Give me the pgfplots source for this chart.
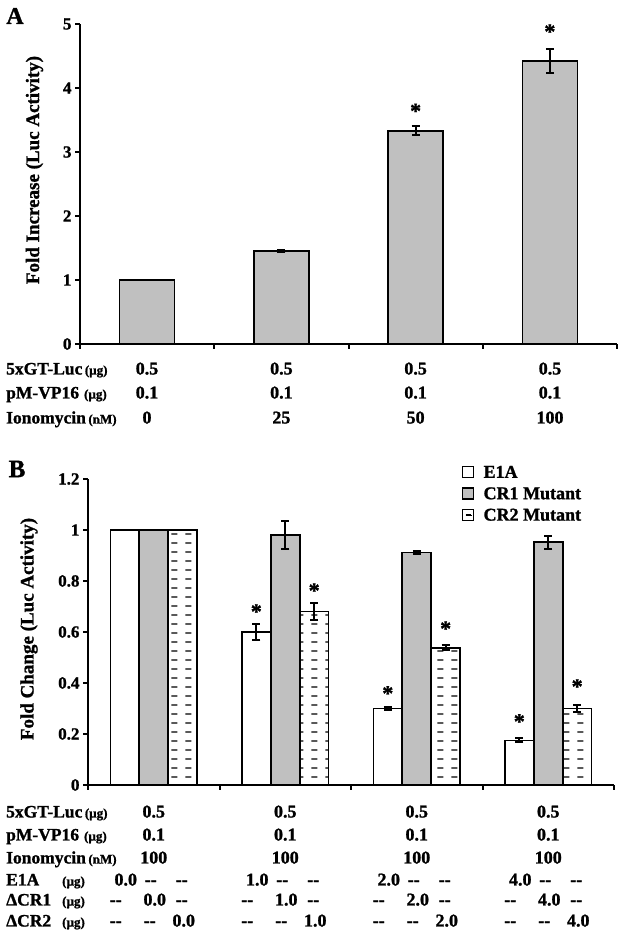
\documentclass[border=0pt]{standalone}
\usepackage{fontspec}
\setmainfont{Liberation Serif}[BoldFeatures={FakeBold=1.2}]
\newfontfamily\labfont{Liberation Serif}[BoldFeatures={FakeBold=1.2}]
\usepackage{pgfplots}
\usepackage{pgfplotstable}
\pgfplotsset{compat=1.18}
\usetikzlibrary{patterns}
\definecolor{barGray}{RGB}{192,192,192}

\pgfdeclarepatternformonly{dashrows}{\pgfqpoint{0pt}{0pt}}{\pgfqpoint{14pt}{9pt}}{\pgfqpoint{14pt}{9pt}}{%
 \pgfsetlinewidth{1.5pt}%
 \pgfpathmoveto{\pgfqpoint{3.5pt}{4.5pt}}%
 \pgfpathlineto{\pgfqpoint{10pt}{4.5pt}}%
 \pgfusepath{stroke}}

\pgfplotstableread{
x y e
0 1.00 0
1 1.45 0.02
2 3.33 0.07
3 4.42 0.19
}\tabA

\pgfplotstableread{
x e1a e1aerr cr1 cr1err cr2 cr2err
0 1.00 0 1.00 0 1.00 0
1 0.60 0.03 0.98 0.055 0.68 0.033
2 0.30 0.004 0.912 0.006 0.538 0.01
3 0.175 0.008 0.952 0.026 0.30 0.013
}\tabB

\newcommand\lab[1]{{\labfont\bfseries\fontsize{17.5}{19}\selectfont #1}}
\newcommand\unit[1]{{\bfseries\fontsize{13}{15}\selectfont #1}}
\newcommand\val[1]{{\bfseries\fontsize{18}{20}\selectfont #1}}
\newcommand\dd{\mbox{-}\mbox{-}}

\tikzset{astnode/.style={font=\fontsize{22}{22}\selectfont\bfseries, inner sep=0pt}}
\pgfplotsset{panel/.style={scale only axis, anchor=south west, xmin=-0.5, xmax=3.5,
  axis x line=bottom, axis y line=left, axis line style={-, line width=2pt},
  tick style={line width=2pt, black}, major tick length=5pt, tick align=outside,
  xtick={-0.5,0.5,1.5,2.5,3.5}, xticklabels={},
  ticklabel style={font=\fontsize{17}{17}\selectfont\bfseries},
  /pgf/number format/assume math mode=true, clip=false},
  errs/.style={error bars/.cd, y dir=both, y explicit,
    error bar style={line width=2pt, black},
    error mark options={rotate=90, mark size=4pt, line width=2pt, black}}}

\begin{document}
\begin{tikzpicture}[x=1pt,y=1pt]
\useasboundingbox (0,0) rectangle (623,934);

% ---------- Panel A ----------
\begin{axis}[panel, at={(80pt,590pt)}, width=537pt, height=320pt,
  ymin=0, ymax=5, ytick={0,1,2,3,4,5}, ybar, bar width=0.41]
\addplot[fill=barGray, draw=black, line width=1.6pt, errs] table[x=x, y=y, y error=e] {\tabA};
\node[astnode] at (axis cs:2,3.64) {*};
\node[astnode] at (axis cs:3,4.88) {*};
\end{axis}

% ---------- Panel B ----------
\begin{axis}[panel, at={(88pt,149pt)}, width=526pt, height=306pt,
  ymin=0, ymax=1.2, ytick={0,0.2,0.4,0.6,0.8,1,1.2}, yticklabels={0,0.2,0.4,0.6,0.8,1,1.2},
  ybar=0pt, bar width=0.22,
  legend style={at={(0.711,1.05)}, anchor=north west, draw=none, fill=none, inner sep=0pt,
    font=\fontsize{18}{18}\selectfont\bfseries, row sep=4pt, legend cell align=left}]
\addplot[fill=white, draw=black, line width=1.6pt,
  legend image code/.code={\draw[fill=white, draw=black, line width=1.2pt] (0pt,-5pt) rectangle (11pt,6pt); \path (18pt,0pt);}, errs]
  table[x=x, y=e1a, y error=e1aerr] {\tabB};
\addlegendentry{E1A}
\addplot[fill=barGray, draw=black, line width=1.6pt,
  legend image code/.code={\draw[fill=barGray, draw=black, line width=1.2pt] (0pt,-5pt) rectangle (11pt,6pt); \path (18pt,0pt);}, errs]
  table[x=x, y=cr1, y error=cr1err] {\tabB};
\addlegendentry{CR1 Mutant}
\addplot[fill=white, draw=black, line width=1.6pt, postaction={pattern=dashrows},
  legend image code/.code={\draw[fill=white, draw=black, line width=1.2pt] (0pt,-5pt) rectangle (11pt,6pt);
    \draw[line width=1.5pt] (3pt,0.5pt) -- (8pt,0.5pt); \path (18pt,0pt);}, errs]
  table[x=x, y=cr2, y error=cr2err] {\tabB};
\addlegendentry{CR2 Mutant}
\node[astnode] at (axis cs:0.78,0.680) {*};
\node[astnode] at (axis cs:1.22,0.762) {*};
\node[astnode] at (axis cs:1.78,0.359) {*};
\node[astnode] at (axis cs:2.22,0.613) {*};
\node[astnode] at (axis cs:2.78,0.249) {*};
\node[astnode] at (axis cs:3.22,0.386) {*};
\end{axis}

% ---------- letters and axis titles ----------
\node[font=\fontsize{24}{24}\selectfont\bfseries] at (15,918) {A};
\node[font=\fontsize{25}{25}\selectfont\bfseries] at (17,465) {B};
\node[rotate=90, font=\fontsize{19}{19}\selectfont\bfseries] at (34.5,764) {Fold Increase (Luc Activity)};
\node[rotate=90, font=\fontsize{19}{19}\selectfont\bfseries] at (29,305) {Fold Change (Luc Activity)};

% ---------- condition table, panel A ----------
\node[anchor=base west, inner sep=0pt] at (6,559.5) {\lab{5xGT-Luc} \unit{(µg)}};
\node[anchor=base west, inner sep=0pt] at (6,535.5) {\lab{pM-VP16}\ \ \unit{(µg)}};
\node[anchor=base west, inner sep=0pt] at (6,510.5) {\lab{Ionomycin} \unit{(nM)}};
\foreach \cx/\c in {147/0, 281.4/25, 415.6/50, 550/100}{
  \node[anchor=base, inner sep=0pt] at (\cx,559.5) {\val{0.5}};
  \node[anchor=base, inner sep=0pt] at (\cx,535.5) {\val{0.1}};
  \node[anchor=base, inner sep=0pt] at (\cx,510.5) {\val{\c}};
}

% ---------- condition table, panel B ----------
\node[anchor=base west, inner sep=0pt] at (6,116.5) {\lab{5xGT-Luc} \unit{(µg)}};
\node[anchor=base west, inner sep=0pt] at (6,93.5) {\lab{pM-VP16}\ \ \unit{(µg)}};
\node[anchor=base west, inner sep=0pt] at (6,70.5) {\lab{Ionomycin} \unit{(nM)}};
\node[anchor=base west, inner sep=0pt] at (6,48.5) {\lab{E1A}};
\node[anchor=base west, inner sep=0pt] at (6,28.5) {\lab{ΔCR1}};
\node[anchor=base west, inner sep=0pt] at (6,7.5) {\lab{ΔCR2}};
\node[anchor=base west, inner sep=0pt] at (62,48.5) {\unit{(µg)}};
\node[anchor=base west, inner sep=0pt] at (62,28.5) {\unit{(µg)}};
\node[anchor=base west, inner sep=0pt] at (62,7.5) {\unit{(µg)}};
\foreach \g/\d in {0/0.0, 1/1.0, 2/2.0, 3/4.0}{
  \pgfmathsetmacro\cx{153.75+131.5*\g}
  \node[anchor=base, inner sep=0pt] at (\cx,116.5) {\val{0.5}};
  \node[anchor=base, inner sep=0pt] at (\cx,93.5) {\val{0.1}};
  \node[anchor=base, inner sep=0pt] at (\cx,70.5) {\val{100}};
  \node[anchor=base, inner sep=0pt] at (\cx-28,48.5) {\val{\d}};
  \node[anchor=base, inner sep=0pt] at (\cx-3,48.5) {\val{\dd}};
  \node[anchor=base, inner sep=0pt] at (\cx+28,48.5) {\val{\dd}};
  \node[anchor=base, inner sep=0pt] at (\cx-38,28.5) {\val{\dd}};
  \node[anchor=base, inner sep=0pt] at (\cx+1,28.5) {\val{\d}};
  \node[anchor=base, inner sep=0pt] at (\cx+28,28.5) {\val{\dd}};
  \node[anchor=base, inner sep=0pt] at (\cx-38,7.5) {\val{\dd}};
  \node[anchor=base, inner sep=0pt] at (\cx-4,7.5) {\val{\dd}};
  \node[anchor=base, inner sep=0pt] at (\cx+30,7.5) {\val{\d}};
}
\end{tikzpicture}
\end{document}
